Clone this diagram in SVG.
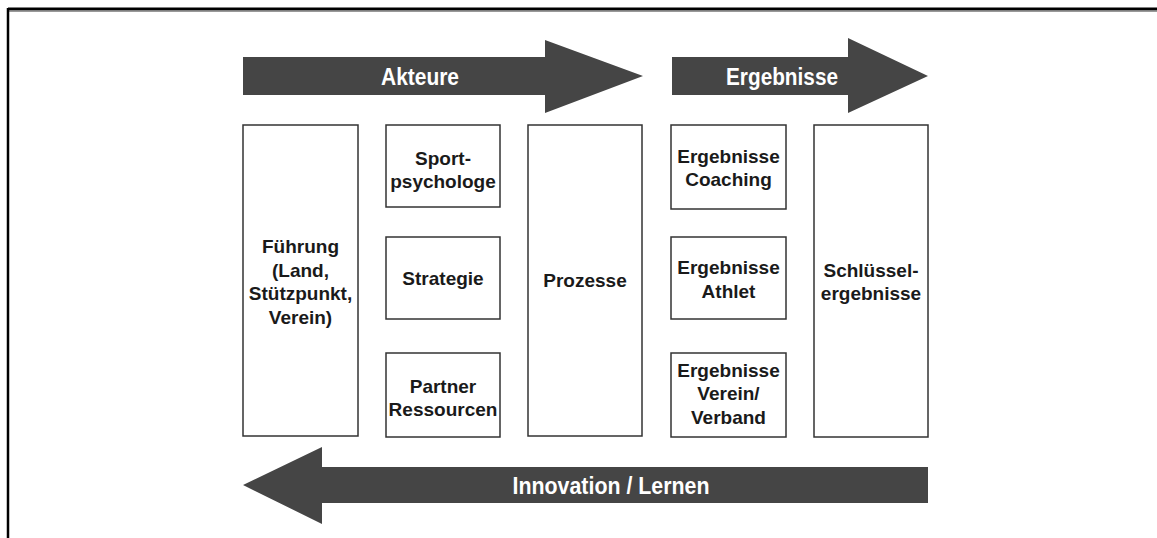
<svg xmlns="http://www.w3.org/2000/svg" width="1157" height="538" viewBox="0 0 1157 538">
  <style>
    .box { fill: #ffffff; stroke: #333333; stroke-width: 1.5; }
    .lbl { font-family: "Liberation Sans", Arial, sans-serif; font-weight: bold; font-size: 19px; fill: #1a1a1a; text-anchor: middle; }
    .band { fill: #454545; }
    .bandtxt { font-family: "Liberation Sans", Arial, sans-serif; font-weight: bold; font-size: 24px; fill: #ffffff; text-anchor: middle; }
  </style>
  <rect width="1157" height="538" fill="#ffffff"/>

  <!-- page frame -->
  <g id="frame">
    <line x1="8" y1="11.5" x2="1157" y2="11.5" stroke="#999999" stroke-width="1"/>
    <line x1="8" y1="9" x2="1157" y2="9" stroke="#000000" stroke-width="3"/>
    <line x1="8" y1="8" x2="8" y2="538" stroke="#000000" stroke-width="2.5"/>
  </g>

  <!-- flow bands -->
  <g id="connectors">
    <g id="band-akteure">
      <polygon class="band" points="243,57 545,57 545,40 643,76 545,113 545,95 243,95"/>
      <text class="bandtxt" x="420" y="85" textLength="78" lengthAdjust="spacingAndGlyphs">Akteure</text>
    </g>
    <g id="band-ergebnisse">
      <polygon class="band" points="672,57 848,57 848,38 928,76 848,113 848,95 672,95"/>
      <text class="bandtxt" x="782" y="85" textLength="112" lengthAdjust="spacingAndGlyphs">Ergebnisse</text>
    </g>
    <g id="band-innovation">
      <polygon class="band" points="928,467 322,467 322,447 243,485 322,524 322,503 928,503"/>
      <text class="bandtxt" x="611" y="494" textLength="197" lengthAdjust="spacingAndGlyphs">Innovation / Lernen</text>
    </g>
  </g>

  <!-- column 1 -->
  <g id="fuehrung">
    <rect class="box" x="243" y="125" width="115" height="311"/>
    <text class="lbl" x="300.5" y="253">Führung</text>
    <text class="lbl" x="300.5" y="277">(Land,</text>
    <text class="lbl" x="300.5" y="300">Stützpunkt,</text>
    <text class="lbl" x="300.5" y="324">Verein)</text>
  </g>

  <!-- column 2 -->
  <g id="sportpsychologe">
    <rect class="box" x="386" y="125" width="114" height="82"/>
    <text class="lbl" x="443" y="165">Sport-</text>
    <text class="lbl" x="443" y="188">psychologe</text>
  </g>
  <g id="strategie">
    <rect class="box" x="386" y="237" width="114" height="82"/>
    <text class="lbl" x="443" y="285">Strategie</text>
  </g>
  <g id="partner">
    <rect class="box" x="386" y="353" width="114" height="84"/>
    <text class="lbl" x="443" y="393">Partner</text>
    <text class="lbl" x="443" y="416">Ressourcen</text>
  </g>

  <!-- column 3 -->
  <g id="prozesse">
    <rect class="box" x="528" y="125" width="114" height="311"/>
    <text class="lbl" x="585" y="287">Prozesse</text>
  </g>

  <!-- column 4 -->
  <g id="ergebnisse-coaching">
    <rect class="box" x="671" y="125" width="115" height="84"/>
    <text class="lbl" x="728.5" y="163">Ergebnisse</text>
    <text class="lbl" x="728.5" y="186">Coaching</text>
  </g>
  <g id="ergebnisse-athlet">
    <rect class="box" x="671" y="237" width="115" height="82"/>
    <text class="lbl" x="728.5" y="274">Ergebnisse</text>
    <text class="lbl" x="728.5" y="298">Athlet</text>
  </g>
  <g id="ergebnisse-verein">
    <rect class="box" x="671" y="353" width="115" height="84"/>
    <text class="lbl" x="728.5" y="377">Ergebnisse</text>
    <text class="lbl" x="728.5" y="400">Verein/</text>
    <text class="lbl" x="728.5" y="424">Verband</text>
  </g>

  <!-- column 5 -->
  <g id="schluesselergebnisse">
    <rect class="box" x="814" y="125" width="114" height="312"/>
    <text class="lbl" x="871" y="277">Schlüssel-</text>
    <text class="lbl" x="871" y="300">ergebnisse</text>
  </g>
</svg>
